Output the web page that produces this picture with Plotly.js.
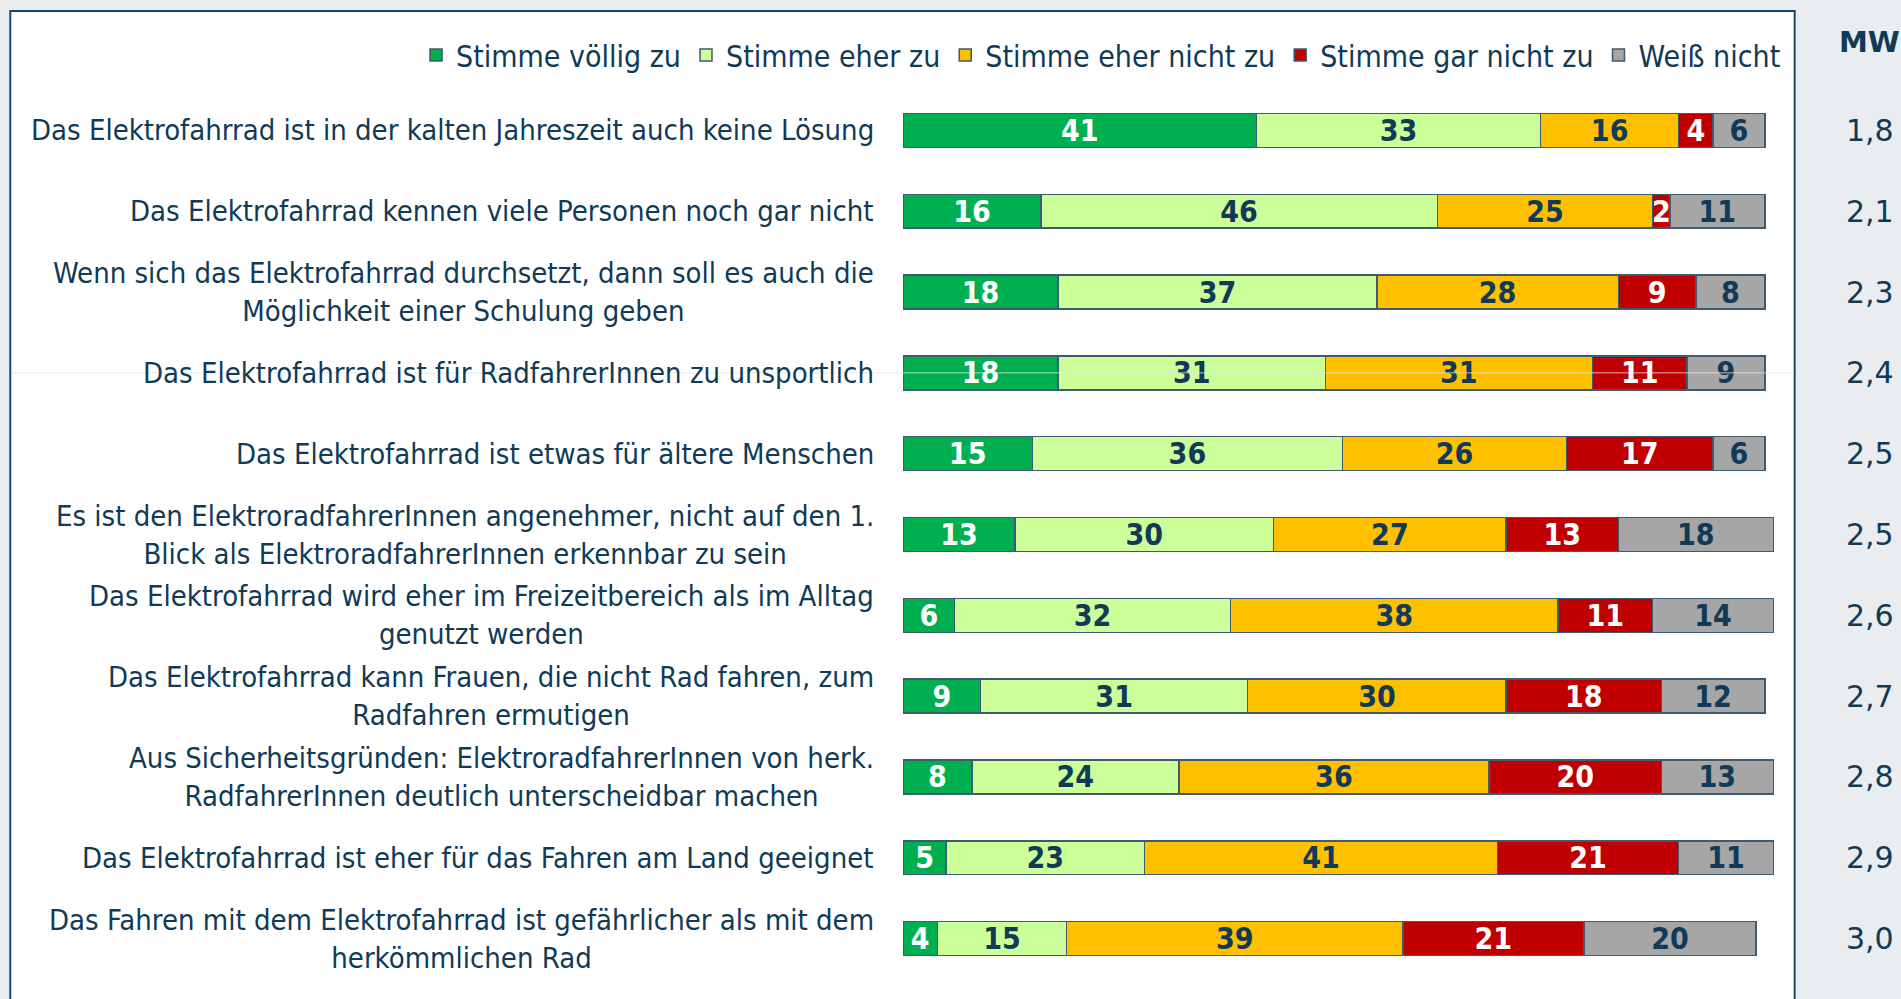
<!DOCTYPE html>
<html>
<head>
<meta charset="utf-8">
<script src="https://cdn.plot.ly/plotly-3.0.1.min.js"></script>
<style>
html,body{margin:0;padding:0;background:#e9edef;}
#chart{width:1901px;height:999px;}
</style>
</head>
<body>
<div id="chart"></div>
<script>
// ---- data ----
var statements = [
  "Das Elektrofahrrad ist in der kalten Jahreszeit auch keine Lösung",
  "Das Elektrofahrrad kennen viele Personen noch gar nicht",
  "Wenn sich das Elektrofahrrad durchsetzt, dann soll es auch die<br>Möglichkeit einer Schulung geben",
  "Das Elektrofahrrad ist für RadfahrerInnen zu unsportlich",
  "Das Elektrofahrrad ist etwas für ältere Menschen",
  "Es ist den ElektroradfahrerInnen angenehmer, nicht auf den 1.<br>Blick als ElektroradfahrerInnen erkennbar zu sein",
  "Das Elektrofahrrad wird eher im Freizeitbereich als im Alltag<br>genutzt werden",
  "Das Elektrofahrrad kann Frauen, die nicht Rad fahren, zum<br>Radfahren ermutigen",
  "Aus Sicherheitsgründen: ElektroradfahrerInnen von herk.<br>RadfahrerInnen deutlich unterscheidbar machen",
  "Das Elektrofahrrad ist eher für das Fahren am Land geeignet",
  "Das Fahren mit dem Elektrofahrrad ist gefährlicher als mit dem<br>herkömmlichen Rad"
];
var seriesNames = ["Stimme völlig zu", "Stimme eher zu", "Stimme eher nicht zu", "Stimme gar nicht zu", "Weiß nicht"];
var stimmeVoelligZu   = [41, 16, 18, 18, 15, 13,  6,  9,  8,  5,  4];
var stimmeEherZu      = [33, 46, 37, 31, 36, 30, 32, 31, 24, 23, 15];
var stimmeEherNichtZu = [16, 25, 28, 31, 26, 27, 38, 30, 36, 41, 39];
var stimmeGarNichtZu  = [ 4,  2,  9, 11, 17, 13, 11, 18, 20, 21, 21];
var weissNicht        = [ 6, 11,  8,  9,  6, 18, 14, 12, 13, 11, 20];
var mittelwert = ["1,8", "2,1", "2,3", "2,4", "2,5", "2,5", "2,6", "2,7", "2,8", "2,9", "3,0"];
var mwHeader = "MW";

// ---- styling ----
var FONT = "DejaVu Sans Condensed, Liberation Sans Narrow, DejaVu Sans, sans-serif";
var WIDE = "DejaVu Sans, Verdana, sans-serif";
var DARK = "#103a56";
var colors = ["#00b050", "#ccff99", "#ffc000", "#c00000", "#a6a6a6"];
var textColors = ["#ffffff", DARK, DARK, "#ffffff", DARK];
var seriesValues = [stimmeVoelligZu, stimmeEherZu, stimmeEherNichtZu, stimmeGarNichtZu, weissNicht];

var traces = seriesValues.map(function (vals, i) {
  return {
    type: "bar",
    orientation: "h",
    name: seriesNames[i],
    y: statements,
    x: vals,
    text: vals.map(String),
    texttemplate: "%{text}",
    textposition: "inside",
    insidetextanchor: "middle",
    textangle: 0,
    constraintext: "none",
    textfont: {family: FONT, size: 30, color: textColors[i], weight: "bold"},
    marker: {color: colors[i], line: {color: "#3e5b70", width: 1.5}},
    hoverinfo: "skip"
  };
});

var annotations = [];
statements.forEach(function (s, i) {
  annotations.push({
    xref: "paper", yref: "y", x: 0, y: s, xanchor: "right", yanchor: "middle",
    xshift: -27, text: s, align: "center", showarrow: false,
    font: {family: FONT, size: 29, color: DARK}
  });
  annotations.push({
    xref: "paper", yref: "y", x: 1.0997, y: s, xanchor: "center", yanchor: "middle",
    text: mittelwert[i], showarrow: false,
    font: {family: WIDE, size: 30, color: DARK}
  });
});
annotations.push({
  xref: "paper", yref: "paper", x: 1.0997, y: 1.0535, xanchor: "center", yanchor: "middle",
  text: "<b>" + mwHeader + "</b>", showarrow: false,
  font: {family: WIDE, size: 29, color: DARK}
});

var layout = {
  width: 1901, height: 999,
  margin: {l: 903, r: 119, t: 90, b: 20, pad: 0},
  paper_bgcolor: "#e9edef",
  plot_bgcolor: "rgba(0,0,0,0)",
  barmode: "stack",
  bargap: 0.58,
  showlegend: true,
  legend: {
    orientation: "h", x: -0.554, xanchor: "left", y: 1.0394, yanchor: "middle",
    font: {family: FONT, size: 30, color: DARK},
    bgcolor: "rgba(0,0,0,0)", itemclick: false, itemdoubleclick: false,
    traceorder: "normal"
  },
  xaxis: {range: [0, 102], visible: false, fixedrange: true},
  yaxis: {type: "category", autorange: "reversed", showticklabels: false, showgrid: false,
          zeroline: false, showline: false, ticks: "", fixedrange: true},
  shapes: [
    {type: "rect", xref: "paper", yref: "paper", x0: -1.0156, x1: 1.0144, y0: -0.06, y1: 1.0889,
     fillcolor: "#ffffff", line: {color: "#1c4664", width: 2}, layer: "below"},
    {type: "line", xref: "paper", yref: "y", x0: -1.0145, x1: 1.0133, y0: statements[3], y1: statements[3],
     line: {color: "rgba(225,230,233,0.8)", width: 1}, layer: "above"}
  ],
  annotations: annotations
};

Plotly.newPlot("chart", traces, layout, {displayModeBar: false, staticPlot: true});
</script>
</body>
</html>
